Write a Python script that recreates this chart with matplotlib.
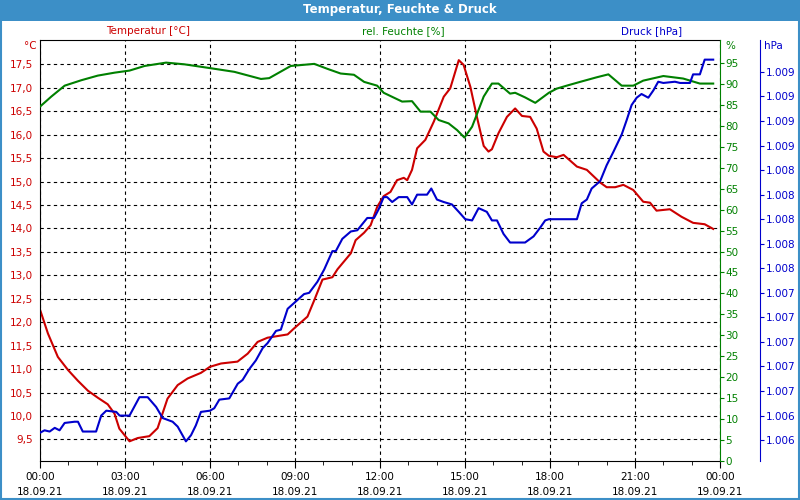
import matplotlib
matplotlib.use('Agg')
import matplotlib.pyplot as plt
from matplotlib.ticker import MultipleLocator
from matplotlib.patches import Rectangle

# Temperatur [°C] (Stunden ab 18.09.21 00:00)
temp_h = [0.0, 0.28, 0.63, 0.99, 1.34, 1.69, 2.04, 2.39, 2.63, 2.8, 3.16, 3.45, 3.86, 4.15, 4.5,
          4.86, 5.21, 5.68, 6.0, 6.39, 6.97, 7.33, 7.68, 8.03, 8.74, 8.97, 9.44, 9.68, 9.97, 10.32,
          10.5, 10.97, 11.14, 11.44, 11.67, 11.9, 12.13, 12.37, 12.6, 12.84, 12.96, 13.13, 13.31,
          13.6, 13.9, 14.25, 14.48, 14.78, 14.95, 15.19, 15.42, 15.66, 15.83, 15.95, 16.18, 16.48,
          16.77, 17.01, 17.3, 17.53, 17.77, 17.96, 18.24, 18.48, 18.95, 19.3, 19.77, 20.0, 20.3,
          20.59, 20.94, 21.29, 21.53, 21.76, 22.23, 22.64, 23.05, 23.46, 23.76]
temp = [12.27, 11.76, 11.26, 10.98, 10.75, 10.54, 10.39, 10.25, 10.05, 9.73, 9.46, 9.53, 9.57, 9.74,
        10.37, 10.66, 10.8, 10.92, 11.05, 11.12, 11.16, 11.33, 11.58, 11.67, 11.74, 11.87, 12.12,
        12.47, 12.91, 12.96, 13.13, 13.47, 13.75, 13.91, 14.07, 14.46, 14.69, 14.78, 15.03, 15.08,
        15.03, 15.25, 15.71, 15.89, 16.28, 16.81, 16.99, 17.59, 17.49, 17.02, 16.38, 15.76, 15.64,
        15.69, 16.03, 16.38, 16.56, 16.40, 16.38, 16.13, 15.64, 15.55, 15.52, 15.57, 15.32, 15.25,
        14.98, 14.88, 14.88, 14.93, 14.82, 14.57, 14.55, 14.38, 14.41, 14.25, 14.12, 14.09, 13.99]

# rel. Feuchte [%]
feuchte_h = [0.0, 0.4, 0.87, 1.46, 2.04, 2.63, 3.16, 3.69, 4.45, 5.09, 5.99, 6.86, 7.8, 8.09, 8.85,
             9.68, 10.15, 10.61, 11.08, 11.44, 11.9, 12.13, 12.78, 13.13, 13.43, 13.78, 14.07, 14.42,
             14.72, 14.98, 15.25, 15.66, 15.95, 16.18, 16.59, 16.77, 17.12, 17.48, 17.96, 18.24,
             18.59, 19.06, 19.65, 20.06, 20.53, 20.94, 21.29, 22.0, 22.7, 23.29, 23.76]
feuchte = [84.6, 87.0, 89.6, 90.9, 92.0, 92.7, 93.2, 94.3, 95.1, 94.7, 93.8, 92.9, 91.2, 91.4, 94.3,
           94.8, 93.6, 92.5, 92.2, 90.5, 89.6, 87.9, 85.8, 85.9, 83.4, 83.4, 81.4, 80.6, 79.0, 77.2,
           79.8, 87.0, 90.1, 90.1, 87.7, 87.9, 86.8, 85.5, 87.9, 88.9, 89.6, 90.5, 91.6, 92.3, 89.6,
           89.6, 90.8, 91.9, 91.3, 90.1, 90.1]

# Druck [hPa]
druck_h = [0.0, 0.16, 0.34, 0.52, 0.69, 0.87, 1.22, 1.34, 1.51, 1.98, 2.16, 2.34, 2.69, 2.81, 3.16,
           3.51, 3.8, 4.1, 4.33, 4.68, 4.86, 5.15, 5.33, 5.5, 5.68, 6.0, 6.15, 6.33, 6.68, 6.98,
           7.15, 7.39, 7.62, 7.86, 8.03, 8.33, 8.5, 8.74, 9.03, 9.32, 9.5, 9.79, 10.03, 10.32,
           10.44, 10.67, 10.97, 11.2, 11.55, 11.79, 11.95, 12.13, 12.25, 12.43, 12.66, 12.96, 13.13,
           13.31, 13.66, 13.81, 14.01, 14.25, 14.54, 14.78, 15.01, 15.25, 15.48, 15.77, 15.95,
           16.13, 16.36, 16.59, 17.12, 17.42, 17.65, 17.83, 17.96, 18.95, 19.12, 19.3, 19.47,
           19.77, 20.0, 20.24, 20.53, 20.71, 20.88, 21.06, 21.23, 21.47, 21.65, 21.82, 22.0, 22.41,
           22.59, 22.94, 23.05, 23.29, 23.46, 23.76]
druck = [1006.16, 1006.18, 1006.17, 1006.20, 1006.18, 1006.24, 1006.25, 1006.25, 1006.17, 1006.17,
         1006.30, 1006.34, 1006.33, 1006.30, 1006.30, 1006.45, 1006.45, 1006.37, 1006.28, 1006.25,
         1006.21, 1006.09, 1006.14, 1006.22, 1006.33, 1006.34, 1006.36, 1006.43, 1006.44, 1006.56,
         1006.59, 1006.68, 1006.75, 1006.85, 1006.89, 1006.99, 1007.00, 1007.17, 1007.23, 1007.29,
         1007.30, 1007.39, 1007.49, 1007.64, 1007.64, 1007.74, 1007.80, 1007.81, 1007.91, 1007.91,
         1007.98, 1008.08, 1008.08, 1008.04, 1008.08, 1008.08, 1008.02, 1008.10, 1008.10, 1008.15,
         1008.06, 1008.04, 1008.02, 1007.96, 1007.90, 1007.89, 1007.99, 1007.96, 1007.89, 1007.89,
         1007.78, 1007.71, 1007.71, 1007.76, 1007.83, 1007.89, 1007.90, 1007.90, 1008.03, 1008.06,
         1008.15, 1008.21, 1008.34, 1008.45, 1008.59, 1008.71, 1008.83, 1008.89, 1008.92, 1008.89,
         1008.95, 1009.02, 1009.01, 1009.02, 1009.01, 1009.01, 1009.08, 1009.08, 1009.20, 1009.20]

x_ticks = [0, 3, 6, 9, 12, 15, 18, 21, 24]
x_labels = ['00:00\n18.09.21', '03:00\n18.09.21', '06:00\n18.09.21', '09:00\n18.09.21',
            '12:00\n18.09.21', '15:00\n18.09.21', '18:00\n18.09.21', '21:00\n18.09.21',
            '00:00\n19.09.21']
t_ticks = [9.5, 10.0, 10.5, 11.0, 11.5, 12.0, 12.5, 13.0, 13.5, 14.0, 14.5, 15.0, 15.5, 16.0,
           16.5, 17.0, 17.5]
t_labels = ['9,5', '10,0', '10,5', '11,0', '11,5', '12,0', '12,5', '13,0', '13,5', '14,0', '14,5',
            '15,0', '15,5', '16,0', '16,5', '17,0', '17,5']
f_ticks = [0, 5, 10, 15, 20, 25, 30, 35, 40, 45, 50, 55, 60, 65, 70, 75, 80, 85, 90, 95]
p_ticks = [1006.1, 1006.3, 1006.5, 1006.7, 1006.9, 1007.1, 1007.3, 1007.5, 1007.7, 1007.9,
           1008.1, 1008.3, 1008.5, 1008.7, 1008.9, 1009.1]
p_labels = ['1.006', '1.006', '1.007', '1.007', '1.007', '1.007', '1.007', '1.008', '1.008',
            '1.008', '1.008', '1.008', '1.009', '1.009', '1.009', '1.009']

RED = '#cc0000'
GREEN = '#008000'
BLUE = '#0000cc'
BAR = '#3c8fc7'
W, H = 800, 500

plt.rcParams['font.family'] = ['DejaVu Sans']
plt.rcParams['font.size'] = 7.5

fig = plt.figure(figsize=(8, 5), dpi=100)
fig.patch.set_facecolor('white')

# Titelleiste und Rahmen
fig.patches.append(Rectangle((0, 1 - 21 / H), 1, 21 / H, transform=fig.transFigure,
                             facecolor=BAR, edgecolor='none', zorder=0))
fig.patches.append(Rectangle((0.001, 0.002), 0.998, 0.996, transform=fig.transFigure,
                             fill=False, edgecolor=BAR, lw=1.5, zorder=0))
fig.text(0.5, 1 - 10 / H, 'Temperatur, Feuchte & Druck', color='white', fontsize=8.5,
         fontweight='bold', ha='center', va='center')

ax = fig.add_axes([40 / W, 1 - 461 / H, 680 / W, 421 / H])
ax2 = ax.twinx()
ax3 = ax.twinx()

ax.plot(temp_h, temp, color=RED, lw=1.5)
ax2.plot(feuchte_h, feuchte, color=GREEN, lw=1.5)
ax3.plot(druck_h, druck, color=BLUE, lw=1.5)

ax.set_xlim(0, 24)
ax.set_ylim(9.04, 18.02)
ax2.set_ylim(0, 100.5)
ax3.set_ylim(1005.93, 1009.36)

ax.set_xticks(x_ticks)
ax.set_xticklabels(x_labels, linespacing=1.6)
ax.xaxis.set_minor_locator(MultipleLocator(1))
ax.tick_params(axis='x', which='major', length=5, pad=3, colors='black')
ax.tick_params(axis='x', which='minor', length=3)

ax.set_yticks(t_ticks)
ax.set_yticklabels(t_labels)
ax.tick_params(axis='y', length=0, pad=5, labelcolor=RED)

ax2.set_yticks(f_ticks)
ax2.tick_params(axis='y', length=3, pad=1, color=GREEN, labelcolor=GREEN)

ax3.set_yticks(p_ticks)
ax3.set_yticklabels(p_labels)
ax3.tick_params(axis='y', length=3, pad=1, color=BLUE, labelcolor=BLUE)
ax3.spines['right'].set_position(('outward', 40 * 0.72))

ax.grid(True, which='major', color='black', ls=(0, (3, 3)), lw=0.8)

for s in ['left', 'bottom', 'top']:
    ax.spines[s].set_color('black')
ax.spines['right'].set_visible(False)
for s in ['left', 'bottom', 'top']:
    ax2.spines[s].set_visible(False)
    ax3.spines[s].set_visible(False)
ax2.spines['right'].set_color(GREEN)
ax3.spines['right'].set_color(BLUE)

# Beschriftungen oberhalb
fig.text(148 / W, 1 - 31 / H, 'Temperatur [°C]', color=RED, ha='center', va='center')
fig.text(403 / W, 1 - 31 / H, 'rel. Feuchte [%]', color=GREEN, ha='center', va='center')
fig.text(652 / W, 1 - 31 / H, 'Druck [hPa]', color=BLUE, ha='center', va='center')
fig.text(37 / W, 1 - 46 / H, '°C', color=RED, ha='right', va='center')
fig.text(725 / W, 1 - 46 / H, '%', color=GREEN, ha='left', va='center')
fig.text(764 / W, 1 - 46 / H, 'hPa', color=BLUE, ha='left', va='center')

fig.savefig('out.png', dpi=100)
